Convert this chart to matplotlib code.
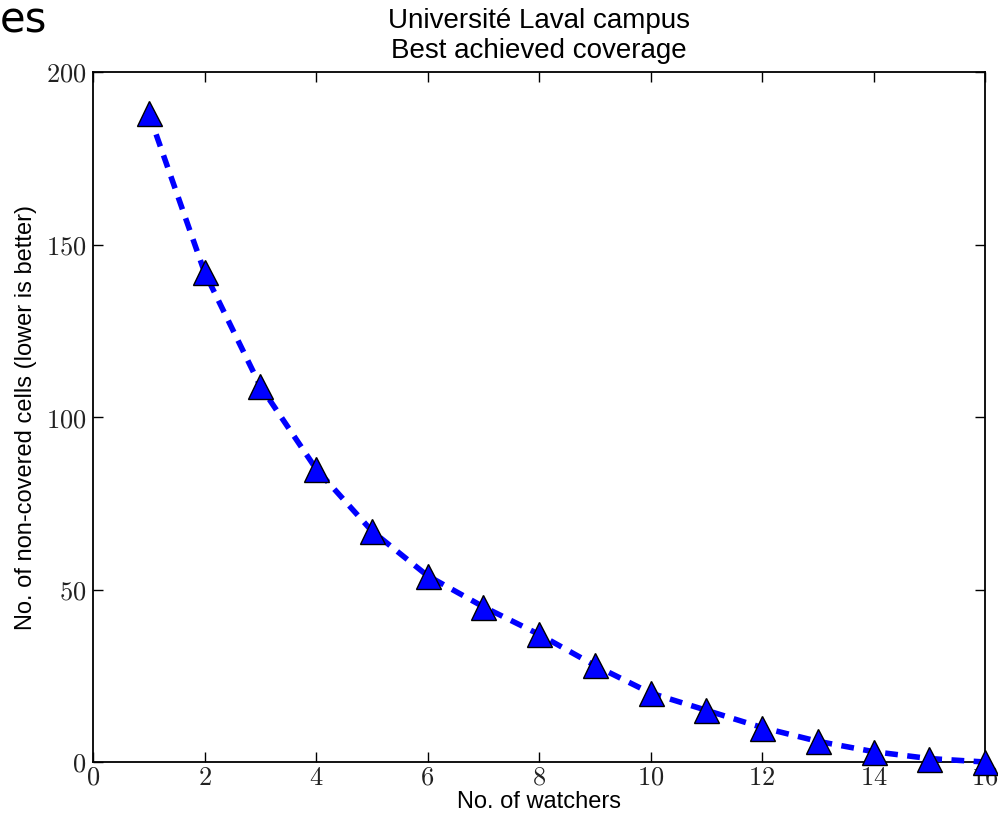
import matplotlib
matplotlib.use("Agg")
import matplotlib.pyplot as plt
from matplotlib.ticker import FuncFormatter

watchers = [1, 2, 3, 4, 5, 6, 7, 8, 9, 10, 11, 12, 13, 14, 15, 16]
uncovered = [188, 142, 109, 85, 67, 54, 45, 37, 28, 20, 15, 10, 6, 3, 1, 0]

xticks = [0, 2, 4, 6, 8, 10, 12, 14, 16]
yticks = [0, 50, 100, 150, 200]

plt.rcParams['mathtext.fontset'] = 'cm'
sans = ['Liberation Sans', 'DejaVu Sans']

fig = plt.figure(figsize=(9.98, 8.16), dpi=100)
ax = fig.add_axes([93/998, 54/816, 892/998, 690/816])

ax.plot(watchers, uncovered, color='#0000ff', lw=4, ls=(0, (2.3, 1.7)),
        marker='^', ms=18, markerfacecolor='#0000ff', markeredgecolor='black',
        markeredgewidth=1.0, clip_on=False, zorder=3)

ax.set_xlim(0, 16)
ax.set_ylim(0, 200)
ax.set_xticks(xticks)
ax.set_yticks(yticks)
fmt = FuncFormatter(lambda v, p: r'$%d$' % v)
ax.xaxis.set_major_formatter(fmt)
ax.yaxis.set_major_formatter(fmt)
ax.tick_params(direction='in', top=True, right=True, length=7, width=1,
               labelsize=19, labelcolor='#222222', pad=5)
ax.tick_params(axis='x', pad=2)
for s in ax.spines.values():
    s.set_linewidth(1.3)

ax.set_xlabel('No. of watchers', fontsize=17, family=sans, labelpad=0)
ax.set_ylabel('No. of non-covered cells (lower is better)', fontsize=17,
              family=sans, labelpad=6)
ax.set_title('Université Laval campus\nBest achieved coverage', fontsize=20,
             family=sans, pad=10, linespacing=1.2)

fig.text(0.0, 0.975, 'es', fontsize=30, family='DejaVu Sans', va='center', ha='left')

fig.savefig('out.png', dpi=100)
